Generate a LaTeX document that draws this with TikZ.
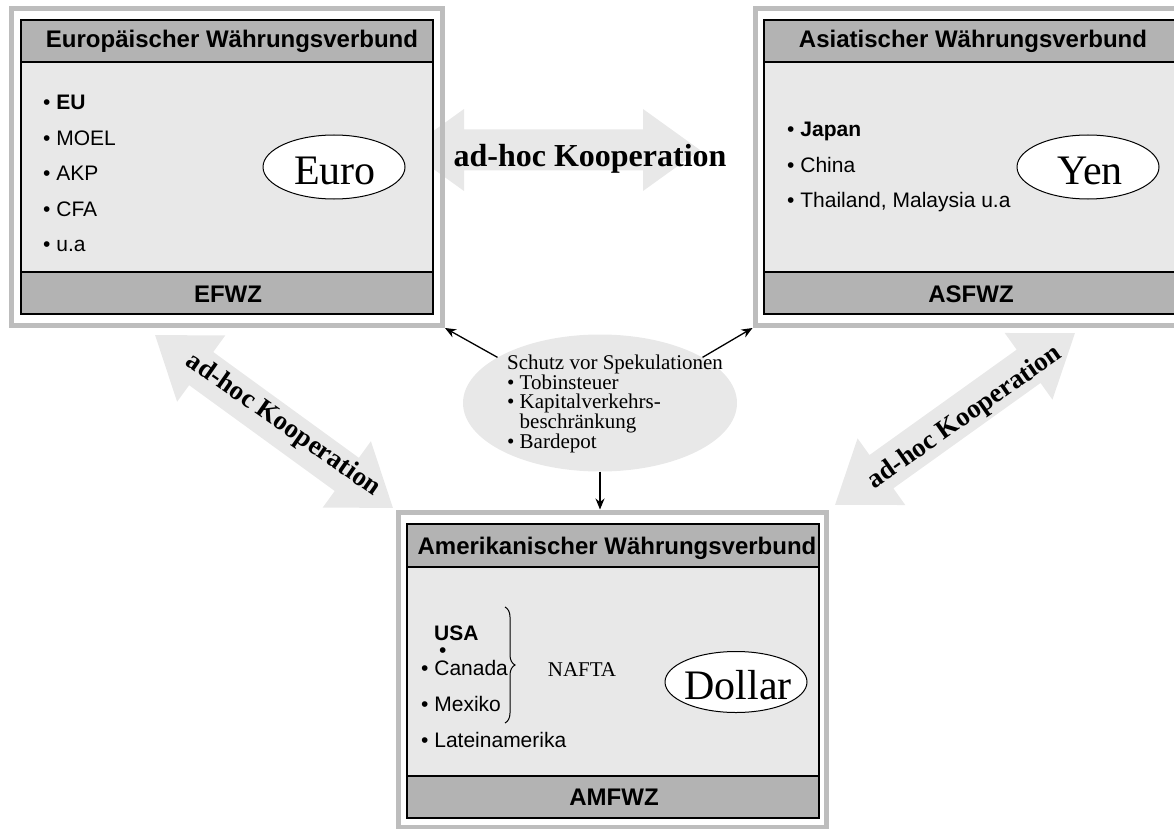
\documentclass[tikz,border=0pt]{standalone}
\usepackage{fontspec}
\setmainfont{Liberation Serif}
\setsansfont{Liberation Sans}
\usetikzlibrary{arrows.meta,decorations.pathreplacing,shapes.geometric}
\definecolor{framegray}{HTML}{BDBDBD}
\definecolor{headgray}{HTML}{B3B3B3}
\definecolor{bodygray}{HTML}{E8E8E8}
\newcommand\fsz[1]{\fontsize{#1}{#1}\selectfont}
\newcommand\fatarrow[4]{%
  \begin{scope}[shift={(#1,#2)},rotate=#3]
    \fill[bodygray] (-#4,0) -- (-#4+57,41) -- (-#4+57,20.5) -- (#4-57,20.5) -- (#4-57,41) -- (#4,0)
      -- (#4-57,-41) -- (#4-57,-20.5) -- (-#4+57,-20.5) -- (-#4+57,-41) -- cycle;
  \end{scope}}
\begin{document}
\begin{tikzpicture}[x=1pt,y=-1pt,
  frame/.style={draw=framegray,line width=5pt,rectangle,inner sep=0pt},
  body/.style={draw=black,fill=bodygray,line width=1.2pt,rectangle,inner sep=0pt,outer sep=0pt},
  band/.style={draw=black,fill=headgray,line width=1.2pt,rectangle,inner sep=0pt,outer sep=0pt,minimum height=42pt},
  title/.style={font=\sffamily\bfseries\fsz{24},inner sep=0pt,anchor=base},
  item/.style={font=\sffamily\fsz{21},inner sep=0pt,anchor=base west},
  cur/.style={draw=black,fill=white,line width=1pt,ellipse,inner sep=0pt,minimum width=142pt,minimum height=64pt},
  curtext/.style={font=\fsz{42},inner sep=0pt,anchor=base},
  coop/.style={font=\bfseries\fsz{27},inner sep=0pt},
  conn/.style={-{Stealth[length=11pt,width=9pt]},line width=1.3pt}]
\useasboundingbox (0,0) rectangle (1174,829);

% fat double arrows (behind)
\fatarrow{553.5}{150}{0}{146.5}
\fatarrow{274}{421.5}{-36}{147}
\fatarrow{955}{419}{35.6}{147.5}

% Europe
\node[frame,minimum width=431.5pt,minimum height=317pt] (euF) at (226.75,167) {};
\node[body,minimum width=412pt,minimum height=294pt] (euB) at (227,167) {};
\node[band,minimum width=412pt,anchor=north] (euH) at (euB.north) {};
\node[band,minimum width=412pt,anchor=south] (euS) at (euB.south) {};
\node[title] (euT) at (232,48) {Europäischer Währungsverbund};
\node[title] (euZ) at (228,302) {EFWZ};
\node[item] (eu1) at (43,110) {• \textbf{EU}};
\node[item] (eu2) at (43,145.5) {• MOEL};
\node[item] (eu3) at (43,181) {• AKP};
\node[item] (eu4) at (43,216) {• CFA};
\node[item] (eu5) at (43,251) {• u.a};
\node[cur] (euro) at (334,167) {};
\node[curtext] (eurot) at (335,185) {Euro};

% Asia
\node[frame,minimum width=434pt,minimum height=317pt] (asF) at (972,167) {};
\node[body,minimum width=416pt,minimum height=294pt] (asB) at (972,167) {};
\node[band,minimum width=416pt,anchor=north] (asH) at (asB.north) {};
\node[band,minimum width=416pt,anchor=south] (asS) at (asB.south) {};
\node[title] (asT) at (973,48) {Asiatischer Währungsverbund};
\node[title] (asZ) at (971,302) {ASFWZ};
\node[item] (as1) at (787,137) {• \textbf{Japan}};
\node[item] (as2) at (787,172) {• China};
\node[item] (as3) at (787,207) {• Thailand, Malaysia u.a};
\node[cur] (yen) at (1088,167) {};
\node[curtext] (yent) at (1090,185) {Yen};

% America
\node[frame,minimum width=428.5pt,minimum height=315pt] (amF) at (612.25,669.5) {};
\node[body,minimum width=412pt,minimum height=294pt] (amB) at (613,671) {};
\node[band,minimum width=412pt,minimum height=43pt,anchor=north] (amH) at (amB.north) {};
\node[band,minimum width=412pt,anchor=south] (amS) at (amB.south) {};
\node[title] (amT) at (617,554) {Amerikanischer Währungsverbund};
\node[title] (amZ) at (614,805) {AMFWZ};
\node[item] (am0) at (434,640) {\textbf{USA}};
\node[item] (am0b) at (439,657) {•};
\node[item] (am1) at (421,675) {• Canada};
\node[item] (am2) at (421,711) {• Mexiko};
\node[item] (am3) at (421,747) {• Lateinamerika};
\coordinate (brA) at (505,607);
\coordinate (brB) at (505,723);
\draw[line width=1pt,decorate,decoration={brace,amplitude=10pt}] (brA) -- (brB);
\node[font=\fsz{21},inner sep=0pt,anchor=base] (nafta) at (582,676) {NAFTA};
\node[cur,minimum height=61pt] (dollar) at (736,682) {};
\node[curtext] (dollart) at (738,699) {Dollar};

% cooperation labels
\node[font=\bfseries\fsz{32},inner sep=0pt,anchor=base] (coopH) at (590,167) {ad-hoc Kooperation};
\node[coop,rotate=-35] (coopL) at (283,425) {ad-hoc Kooperation};
\node[coop,rotate=35] (coopR) at (965,418) {ad-hoc Kooperation};

% speculation protection
\node[ellipse,fill=bodygray,inner sep=0pt,minimum width=274pt,minimum height=137pt] (spec) at (600,403) {};
\node[font=\fontsize{21}{18.5}\selectfont,align=left,inner sep=0pt] (spect) at (615,404)
  {Schutz vor Spekulationen\\• Tobinsteuer\\• Kapitalverkehrs-\\\phantom{• }beschränkung\\• Bardepot};
\draw[conn] (spec.156) -- (euF.south east);
\draw[conn] (spec.24) -- (asF.south west);
\draw[conn] (spec.south) -- (spec.south |- amF.north);
\end{tikzpicture}
\end{document}
